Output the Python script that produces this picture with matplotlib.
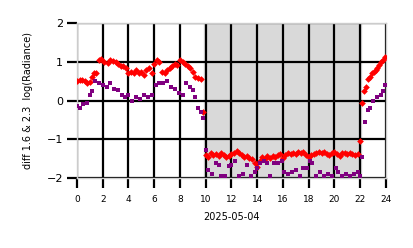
import matplotlib
matplotlib.use("Agg")
import matplotlib.pyplot as plt

# horas del dia y valores (diff 1.6 & 2.3)
hora_rojo = [0.0, 0.2, 0.4, 0.6, 0.8, 1.0, 1.2, 1.3, 1.5, 1.7, 1.9, 2.1, 2.4, 2.6, 2.8, 3.0,
             3.2, 3.4, 3.6, 3.8, 4.0, 4.2, 4.4, 4.6, 4.8, 5.0, 5.2, 5.4, 5.6, 5.8, 6.0, 6.2,
             6.4, 6.6, 6.8, 7.0, 7.2, 7.4, 7.6, 7.8, 8.0, 8.2, 8.4, 8.6, 8.8, 9.0, 9.2, 9.4,
             9.6, 9.8,
             10.0, 10.2, 10.4, 10.6, 10.8, 11.0, 11.2, 11.4, 11.6, 11.8,
             12.0, 12.2, 12.4, 12.6, 12.8, 13.0, 13.2, 13.4, 13.6, 13.8,
             14.0, 14.2, 14.4, 14.6, 14.8, 15.0, 15.2, 15.4, 15.6, 15.8,
             16.0, 16.2, 16.4, 16.6, 16.8, 17.0, 17.2, 17.4, 17.6, 17.8,
             18.0, 18.2, 18.4, 18.6, 18.8, 19.0, 19.2, 19.4, 19.6, 19.8,
             20.0, 20.2, 20.4, 20.6, 20.8, 21.0, 21.2, 21.4, 21.6, 21.8,
             22.0, 22.15, 22.3, 22.45, 22.6, 22.75, 22.9, 23.05, 23.2, 23.35, 23.5, 23.65, 23.8, 23.95]
val_rojo = [0.50, 0.52, 0.53, 0.50, 0.45, 0.48, 0.62, 0.70, 0.72, 1.05, 1.08, 1.00, 0.98, 1.05, 1.03, 1.00,
            0.95, 0.90, 0.88, 0.85, 0.70, 0.75, 0.72, 0.78, 0.70, 0.75, 0.65, 0.80, 0.85, 0.72, 0.95, 1.05,
            1.00, 0.75, 0.70, 0.78, 0.85, 0.90, 0.95, 0.92, 1.05, 1.00, 0.95, 0.90, 0.85, 0.75, 0.62, 0.58,
            0.55, -0.30,
            -1.40, -1.45, -1.35, -1.40, -1.38, -1.42, -1.36, -1.40, -1.45, -1.42,
            -1.38, -1.35, -1.30, -1.36, -1.40, -1.45, -1.42, -1.48, -1.50, -1.62,
            -1.72, -1.55, -1.45, -1.50, -1.44, -1.48, -1.42, -1.45, -1.40, -1.38,
            -1.48, -1.40, -1.36, -1.38, -1.35, -1.37, -1.33, -1.35, -1.32, -1.40,
            -1.45, -1.40, -1.38, -1.35, -1.33, -1.36, -1.32, -1.38, -1.40, -1.35,
            -1.32, -1.38, -1.42, -1.36, -1.35, -1.38, -1.36, -1.38, -1.40, -1.38,
            -1.05, -0.05, 0.25, 0.35, 0.55, 0.62, 0.70, 0.75, 0.80, 0.85, 0.92, 1.00, 1.05, 1.12]

hora_morado = [0.0, 0.2, 0.5, 0.8, 1.0, 1.2, 1.4, 1.7, 2.0, 2.3, 2.6, 2.9, 3.2, 3.5, 3.7, 4.0,
               4.3, 4.6, 4.9, 5.2, 5.5, 5.8, 6.1, 6.4, 6.7, 7.0, 7.3, 7.6, 7.9, 8.2, 8.5, 8.8,
               9.0, 9.2, 9.4, 9.6, 9.8,
               10.0, 10.2, 10.5, 10.8, 11.0, 11.2, 11.5, 11.8, 12.0, 12.3, 12.6, 12.9, 13.2, 13.5,
               13.8, 14.0, 14.2, 14.5, 14.8, 15.0, 15.3, 15.6, 15.9, 16.1, 16.4, 16.7, 17.0, 17.3,
               17.6, 17.9, 18.1, 18.3, 18.6, 18.9, 19.2, 19.5, 19.8, 20.1, 20.3, 20.6, 20.9, 21.2,
               21.5, 21.8, 22.0,
               22.15, 22.4, 22.6, 22.8, 23.0, 23.3, 23.6, 23.8, 23.95]
val_morado = [-0.15, -0.18, -0.10, -0.05, 0.15, 0.25, 0.50, 0.45, 0.40, 0.35, 0.45, 0.30, 0.28, 0.15, 0.10, 0.15,
              0.00, 0.10, 0.05, 0.15, 0.10, 0.15, 0.40, 0.45, 0.45, 0.50, 0.35, 0.30, 0.20, 0.15, 0.45, 0.35,
              0.28, 0.10, -0.20, -0.30, -0.45,
              -1.28, -1.80, -1.90, -1.60, -1.65, -1.95, -1.95, -1.70, -1.65, -1.55, -1.95, -1.90, -1.65, -1.95,
              -1.85, -1.75, -1.60, -1.55, -1.60, -1.95, -1.60, -1.60, -1.55, -1.85, -1.90, -1.85, -1.80, -1.95,
              -1.75, -1.75, -1.55, -1.60, -1.95, -1.85, -1.95, -1.90, -1.95, -1.75, -1.85, -1.95, -1.90, -1.95,
              -1.90, -1.85, -1.95,
              -1.46, -0.55, -0.25, -0.18, 0.00, 0.08, 0.15, 0.25, 0.40]

noche = (9.9, 22.1)
xticks = list(range(0, 25, 2))
yticks = [-2, -1, 0, 1, 2]

fig = plt.figure(figsize=(4.14, 2.48), dpi=100)
ax = fig.add_axes([0.186, 0.282, 0.746, 0.625])

ax.axvspan(noche[0], noche[1], color='#d9d9d9', zorder=0)
ax.plot(hora_rojo, val_rojo, linestyle='none', marker='D', markersize=3.4,
        color='red', markeredgewidth=0, zorder=3)
ax.plot(hora_morado, val_morado, linestyle='none', marker='s', markersize=3.0,
        color='purple', markeredgewidth=0, zorder=3)

ax.set_xlim(0, 24)
ax.set_ylim(-2, 2)
ax.set_xticks(xticks)
ax.set_yticks(yticks)
ax.grid(True, color='black', linewidth=1.6, zorder=1)
ax.set_axisbelow(True)
ax.tick_params(axis='both', length=7, width=1.6, color='black', labelsize=6.5, pad=3)
ax.tick_params(axis='y', labelsize=8)
ax.tick_params(axis='x', pad=5)
for s in ax.spines.values():
    s.set_color('#cccccc')
    s.set_linewidth(1.0)

ax.set_xlabel('2025-05-04', fontsize=7, labelpad=6)
ax.set_ylabel('diff 1.6 & 2.3  log(Radiance)', fontsize=7, labelpad=10)

fig.savefig('out.png', dpi=100)
